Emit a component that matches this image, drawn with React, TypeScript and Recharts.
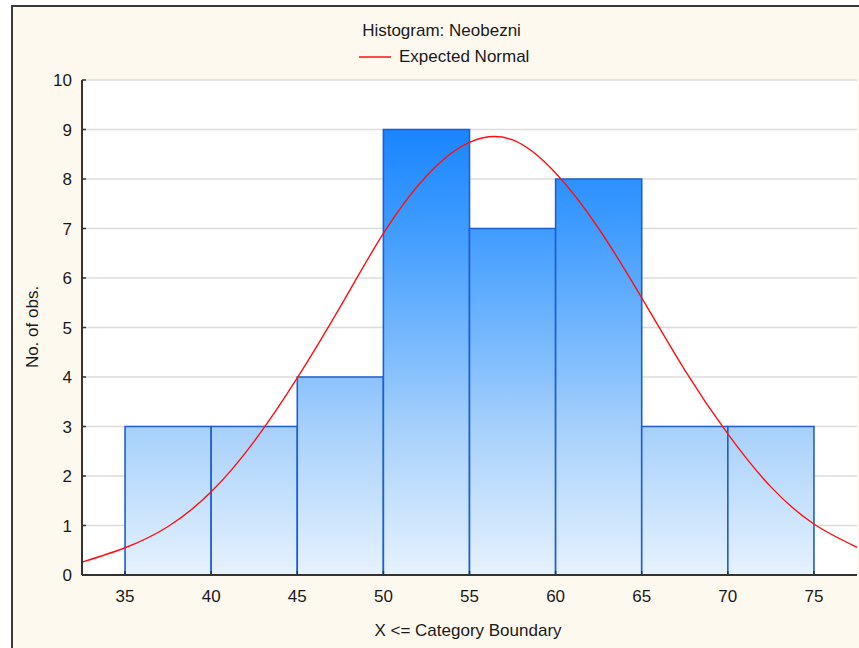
import React from 'react';
import { ComposedChart, Line, XAxis, YAxis, CartesianGrid, ReferenceArea } from 'recharts';

const chartTitle = 'Histogram: Neobezni';
const legendLabel = 'Expected Normal';
const xAxisLabel = 'X <= Category Boundary';
const yAxisLabel = 'No. of obs.';

const binStarts = [35, 40, 45, 50, 55, 60, 65, 70];
const binEnds = [40, 45, 50, 55, 60, 65, 70, 75];
const binCounts = [3, 3, 4, 9, 7, 8, 3, 3];

const curveX = [32.5, 35, 37.5, 40, 42.5, 45, 47.5, 50, 52.5, 55, 57.5, 60, 62.5, 65, 67.5, 70, 72.5, 75, 77.5];
const curveY = [0.26, 0.55, 0.98, 1.68, 2.7, 3.98, 5.42, 6.9, 8.06, 8.74, 8.79, 8.12, 7.0, 5.6, 4.14, 2.85, 1.78, 1.03, 0.56];

const xTicks = [35, 40, 45, 50, 55, 60, 65, 70, 75];
const yTicks = [0, 1, 2, 3, 4, 5, 6, 7, 8, 9, 10];
const xDomain = [32.5, 77.5];
const yDomain = [0, 10];

const curveData = curveX.map((x, i) => ({ x, y: curveY[i] }));

const FONT = '"Liberation Sans", Arial, sans-serif';
const TEXT = '#1a1a1a';
const AXIS = '#333333';

const emptyTick = () => <g />;

export default function App() {
  return (
    <div style={{ position: 'absolute', left: 0, top: 0, width: 859, height: 648, background: '#ffffff', fontFamily: FONT, overflow: 'hidden' }}>
      <div style={{ position: 'absolute', left: 11, top: 5, width: 848, height: 643, background: '#FEF9EF', borderTop: '2px solid #3a3a3a', borderLeft: '2px solid #3a3a3a' }} />
      <div style={{ position: 'absolute', left: 0, top: 0 }}>
        <ComposedChart width={859} height={648} data={curveData} margin={{ top: 80, right: 2, bottom: 0, left: 0 }}>
          <defs>
            <linearGradient id="barGrad" gradientUnits="userSpaceOnUse" x1="0" y1="80" x2="0" y2="575">
              <stop offset="0" stopColor="#0A7CFF" />
              <stop offset="0.1" stopColor="#1A85FF" />
              <stop offset="0.3" stopColor="#3F9CFF" />
              <stop offset="0.6" stopColor="#8AC2FC" />
              <stop offset="0.7" stopColor="#A6D0FB" />
              <stop offset="1" stopColor="#E6F2FE" />
            </linearGradient>
          </defs>
          <CartesianGrid vertical={false} stroke="#DCDCDC" strokeWidth={1.5} fill="#ffffff" />
          <XAxis
            dataKey="x"
            type="number"
            domain={xDomain}
            ticks={xTicks}
            allowDataOverflow
            height={73}
            tickSize={-4}
            tickMargin={19}
            axisLine={{ stroke: AXIS, strokeWidth: 2 }}
            tickLine={{ stroke: AXIS, strokeWidth: 1.5 }}
            tick={{ fill: TEXT, fontSize: 17, fontFamily: FONT }}
            label={{
              content: () => (
                <text x={468} y={636} textAnchor="middle" fill={TEXT} fontSize={17} fontFamily={FONT}>{xAxisLabel}</text>
              ),
            }}
          />
          <XAxis
            xAxisId="top"
            orientation="top"
            type="number"
            domain={xDomain}
            ticks={xTicks}
            allowDataOverflow
            height={0}
            tickSize={-4}
            axisLine={{ stroke: AXIS, strokeWidth: 2 }}
            tickLine={{ stroke: AXIS, strokeWidth: 1.5 }}
            tick={emptyTick}
          />
          <YAxis
            type="number"
            domain={yDomain}
            ticks={yTicks}
            allowDataOverflow
            width={82}
            tickSize={-4}
            tickMargin={14}
            axisLine={{ stroke: AXIS, strokeWidth: 2 }}
            tickLine={{ stroke: AXIS, strokeWidth: 1.5 }}
            tick={{ fill: TEXT, fontSize: 17, fontFamily: FONT }}
            label={{
              content: () => (
                <text x={38} y={327} transform="rotate(-90 38 327)" textAnchor="middle" fill={TEXT} fontSize={17} fontFamily={FONT}>{yAxisLabel}</text>
              ),
            }}
          />
          <YAxis
            yAxisId="right"
            orientation="right"
            type="number"
            domain={yDomain}
            ticks={yTicks}
            allowDataOverflow
            width={0}
            tickSize={-4}
            axisLine={{ stroke: AXIS, strokeWidth: 2 }}
            tickLine={{ stroke: AXIS, strokeWidth: 1.5 }}
            tick={emptyTick}
          />
          {binCounts.map((c, i) => (
            <ReferenceArea
              key={i}
              x1={binStarts[i]}
              x2={binEnds[i]}
              y1={0}
              y2={c}
              fill="url(#barGrad)"
              fillOpacity={1}
              stroke="#1E5FD6"
              strokeWidth={1.6}
              ifOverflow="visible"
            />
          ))}
          <Line
            dataKey="y"
            type="natural"
            stroke="#FF1010"
            strokeWidth={1.4}
            dot={false}
            activeDot={false}
            isAnimationActive={false}
          />
        </ComposedChart>
      </div>
      <svg width={859} height={80} style={{ position: 'absolute', left: 0, top: 0 }}>
        <text x={441.5} y={36} textAnchor="middle" fill={TEXT} fontSize={17} fontFamily={FONT}>{chartTitle}</text>
        <line x1={359} y1={57} x2={391} y2={57} stroke="#FF1010" strokeWidth={1.5} />
        <text x={399} y={62} textAnchor="start" fill={TEXT} fontSize={17} fontFamily={FONT}>{legendLabel}</text>
      </svg>
    </div>
  );
}
